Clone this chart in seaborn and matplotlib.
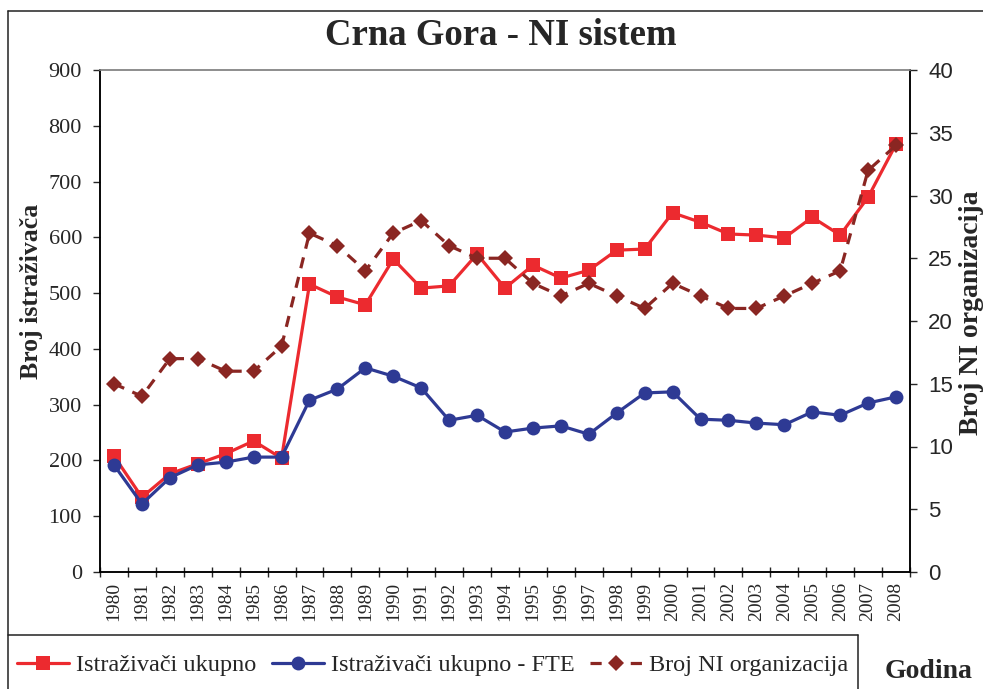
import numpy as np
import pandas as pd
import matplotlib
matplotlib.use("Agg")
import matplotlib.pyplot as plt
from matplotlib.lines import Line2D
from matplotlib.ticker import MultipleLocator, FixedLocator
import seaborn as sns

years = list(range(1980, 2009))
istrazivaci = [208, 134, 176, 194, 212, 235, 204, 516, 493, 479, 561, 509, 513, 570, 509,
               550, 527, 541, 577, 579, 644, 627, 606, 604, 599, 636, 604, 672, 767]
istrazivaci_fte = [192, 122, 169, 192, 197, 206, 206, 308, 328, 366, 351, 330, 272, 281, 251,
                   258, 262, 247, 285, 321, 323, 274, 272, 267, 264, 287, 281, 303, 314]
broj_org = [15, 14, 17, 17, 16, 16, 18, 27, 26, 24, 27, 28, 26, 25, 25,
            23, 22, 23, 22, 21, 23, 22, 21, 21, 22, 23, 24, 32, 34]

labels = ["Istraživači ukupno", "Istraživači ukupno - FTE", "Broj NI organizacija"]

df = pd.DataFrame({"godina": years, "ukupno": istrazivaci,
                   "fte": istrazivaci_fte, "org": broj_org})

sns.set_style("ticks")
plt.rcParams["font.family"] = ["Liberation Serif", "DejaVu Serif"]

fig = plt.figure(figsize=(9.83, 6.89), dpi=100)
W, H = 983, 689
ax = fig.add_axes([100 / W, 1 - 572 / H, 810 / W, 502 / H])
ax2 = ax.twinx()

red = "#ec2a2f"
blue = "#2e3a94"
dred = "#8a2622"

sns.lineplot(data=df, x="godina", y="ukupno", ax=ax, color=red, marker="s",
             markersize=10, markeredgewidth=0, linewidth=2.3, label=labels[0], legend=False)
sns.lineplot(data=df, x="godina", y="fte", ax=ax, color=blue, marker="o",
             markersize=10, markeredgewidth=0, linewidth=2.3, label=labels[1], legend=False)
sns.lineplot(data=df, x="godina", y="org", ax=ax2, color=dred, marker="D",
             markersize=8.5, markeredgewidth=0, linewidth=2.3, linestyle=(0, (3.5, 2.8)),
             label=labels[2], legend=False)

ax.set_xlim(1979.5, 2008.5)
ax.set_ylim(0, 900)
ax2.set_ylim(0, 40)
ax.yaxis.set_major_locator(MultipleLocator(100))
ax2.yaxis.set_major_locator(MultipleLocator(5))

ax.set_xticks(years)
ax.set_xticklabels([str(y) for y in years], rotation=90, fontsize=14)
ax.xaxis.set_minor_locator(FixedLocator(np.arange(1979.5, 2009, 1)))
ax.tick_params(axis="x", which="major", length=0, pad=7)
ax.tick_params(axis="x", which="minor", length=7, direction="inout", width=1)
ax.tick_params(axis="y", length=5, width=1, labelsize=16, pad=8)
ax2.tick_params(axis="y", length=5, width=1, labelsize=16, pad=8)
for t in ax2.get_yticklabels():
    t.set_fontfamily("Liberation Sans")

ax.set_xlabel("")
ax.set_ylabel("")
ax2.set_ylabel("")

for a in (ax, ax2):
    for s in ("left", "right", "bottom"):
        a.spines[s].set_color("black")
        a.spines[s].set_linewidth(1.1)
    a.spines["top"].set_color("#8a8a8a")
    a.spines["top"].set_linewidth(1.1)
    a.grid(False)

fig.text(501 / W, 1 - 45 / H, "Crna Gora - NI sistem", ha="center", va="baseline",
         fontsize=26.5, fontweight="bold")
fig.text(32 / W, 1 - 291 / H, "Broj istraživača", rotation=90, ha="center", va="center",
         fontsize=18.5, fontweight="bold")
fig.text(971 / W, 1 - 313 / H, "Broj NI organizacija", rotation=90, ha="center", va="center",
         fontsize=20, fontweight="bold")
fig.text(929 / W, 1 - 672 / H, "Godina", ha="center", va="center",
         fontsize=20, fontweight="bold")

# outer frame and legend box
frame_lines = [([8, W], [11, 11]), ([8, 8], [11, H]), ([8, 858], [635, 635]), ([858, 858], [635, H])]
for xs, ys in frame_lines:
    fig.add_artist(Line2D([x / W for x in xs], [1 - y / H for y in ys],
                          color="#222222", linewidth=1.1, transform=fig.transFigure))

h1, l1 = ax.get_legend_handles_labels()
h2, l2 = ax2.get_legend_handles_labels()
fig.legend(h1 + h2, l1 + l2, loc="center left", bbox_to_anchor=(17 / W, 1 - 665 / H),
           ncol=3, frameon=False, fontsize=17.5, handlelength=2.15, handletextpad=0.29,
           columnspacing=0.62, borderaxespad=0, borderpad=0)

fig.savefig("out.png", dpi=100)
